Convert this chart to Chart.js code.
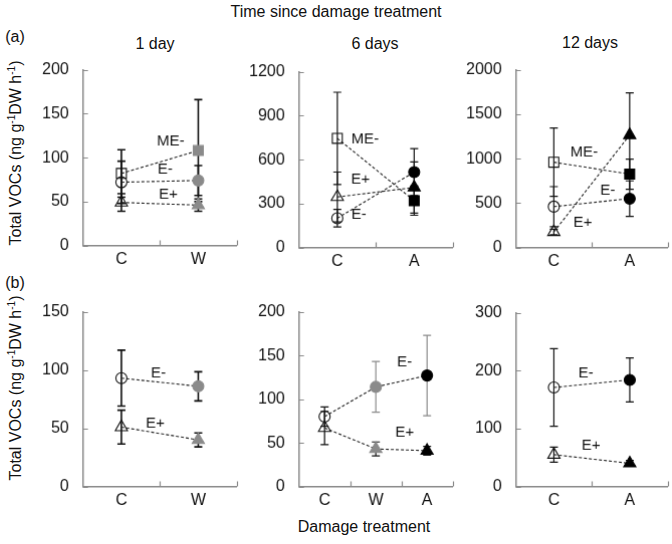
<!DOCTYPE html>
<html>
<head>
<meta charset="utf-8">
<script src="https://cdn.jsdelivr.net/npm/chart.js@4.4.0/dist/chart.umd.min.js"></script>
<style>
  body { margin: 0; background: #fff; width: 672px; height: 544px; position: relative; overflow: hidden;
         font-family: "Liberation Sans", Arial, sans-serif; color: #111; }
  canvas { position: absolute; }
  .t { position: absolute; font-size: 16px; white-space: nowrap; transform: translate(-50%, -50%); }
  .yt { position: absolute; font-size: 16px; white-space: nowrap; transform: translate(-50%, -50%) rotate(-90deg); }
  sup { font-size: 10px; vertical-align: 6px; line-height: 0; }
</style>
</head>
<body>
<div class="t" style="left:336px;top:12px">Time since damage treatment</div>
<div class="t" style="left:15px;top:37px">(a)</div>
<div class="t" style="left:15px;top:283px">(b)</div>
<div class="t" style="left:155px;top:44px">1 day</div>
<div class="t" style="left:375px;top:44px">6 days</div>
<div class="t" style="left:590px;top:43px">12 days</div>
<div class="t" style="left:364px;top:527px">Damage treatment</div>
<div class="yt" style="left:16px;top:153px">Total VOCs (ng g<sup>-1</sup>DW h<sup>-1</sup>)</div>
<div class="yt" style="left:16px;top:388px">Total VOCs (ng g<sup>-1</sup>DW h<sup>-1</sup>)</div>

<script>
// (a) total VOCs, rows = 1 day / 6 days / 12 days
const catsA1 = ["C", "W"];
const a1MEm = [82, 108], a1MEmErr = [27, 58];
const a1Em = [72, 74], a1EmErr = [24, 17];
const a1Ep = [49, 46], a1EpErr = [10, 7];

const catsA2 = ["C", "A"];
const a2MEm = [745, 320], a2MEmErr = [315, 100];
const a2Em = [200, 515], a2EmErr = [60, 160];
const a2Ep = [345, 410], a2EpErr = [170, 175];

const catsA3 = ["C", "A"];
const a3MEm = [960, 825], a3MEmErr = [385, 170];
const a3Em = [460, 550], a3EmErr = [225, 200];
const a3Ep = [175, 1265], a3EpErr = [30, 475];

// (b)
const catsB1 = ["C", "W"];
const b1Em = [93, 86], b1EmErr = [24, 12.5];
const b1Ep = [51, 40], b1EpErr = [14.5, 6];

const catsB2 = ["C", "W", "A"];
const b2Em = [80, 114, 127], b2EmErr = [11, 29, 46];
const b2Ep = [67, 43, 41], b2EpErr = [19, 8, 5];

const catsB3 = ["C", "A"];
const b3Em = [171, 184], b3EmErr = [67, 38];
const b3Ep = [55, 40], b3EpErr = [13, 5];

const FONT = "Liberation Sans, Arial, sans-serif";
const GRAY = "#8a8a8a";
const markFill = { C: "rgba(0,0,0,0)", W: GRAY, A: "#000" };
const markEdge = { C: "#111", W: GRAY, A: "#000" };

const styleOf = {
  "ME-": { pointStyle: "rect", radius: 7 },
  "E-": { pointStyle: "circle", radius: 5.5 },
  "E+": { pointStyle: "triangle", radius: 7 }
};

const panelPlugin = {
  id: "panelExtras",
  beforeDatasetsDraw(chart) {
    const ctx = chart.ctx, ys = chart.scales.y;
    const cfg = chart.options.plugins.panelExtras;
    ctx.save();
    chart.data.datasets.forEach((ds, i) => {
      const meta = chart.getDatasetMeta(i);
      ds.data.forEach((v, j) => {
        const e = ds.errs[j];
        const x = meta.data[j].x;
        const y1 = ys.getPixelForValue(v + e), y2 = ys.getPixelForValue(v - e);
        ctx.strokeStyle = (ds.grayErr && chart.data.labels[j] !== "C") ? GRAY : "#111";
        ctx.lineWidth = cfg.errWidth;
        ctx.beginPath();
        ctx.moveTo(x, y1); ctx.lineTo(x, y2);
        ctx.moveTo(x - 4, y1); ctx.lineTo(x + 4, y1);
        ctx.moveTo(x - 4, y2); ctx.lineTo(x + 4, y2);
        ctx.stroke();
      });
    });
    ctx.restore();
  },
  afterDraw(chart) {
    const ctx = chart.ctx, xs = chart.scales.x, ys = chart.scales.y, a = chart.chartArea;
    const cfg = chart.options.plugins.panelExtras;
    ctx.save();
    // inward tick marks
    ctx.strokeStyle = GRAY;
    ctx.lineWidth = 1.2;
    ctx.beginPath();
    ys.ticks.forEach(t => {
      const py = Math.round(ys.getPixelForValue(t.value)) + 0.5;
      ctx.moveTo(a.left, py); ctx.lineTo(a.left + 5, py);
    });
    for (let i = 0; i < chart.data.labels.length; i++) {
      const px = Math.round(xs.getPixelForValue(i + 0.5)) + 0.5;
      ctx.moveTo(px, a.bottom); ctx.lineTo(px, a.bottom - 5);
    }
    ctx.stroke();
    // series names
    ctx.fillStyle = "#111";
    ctx.font = "15px " + FONT;
    ctx.textAlign = "center";
    ctx.textBaseline = "middle";
    cfg.notes.forEach(n => {
      ctx.fillText(n.text, xs.getPixelForValue(n.x), ys.getPixelForValue(n.y));
    });
    ctx.restore();
  }
};

function series(label, cats, data, errs, grayErr) {
  const s = styleOf[label];
  return {
    label: label,
    data: data,
    errs: errs,
    grayErr: !!grayErr,
    pointStyle: s.pointStyle,
    pointRadius: s.radius,
    pointBackgroundColor: cats.map(c => markFill[c]),
    pointBorderColor: cats.map(c => markEdge[c]),
    pointBorderWidth: 1.1,
    borderColor: "#222",
    borderWidth: 1.1,
    borderDash: [3, 2],
    fill: false,
    tension: 0
  };
}

// area = wanted plot box on the page; canvas is resized/moved until the chart area sits there
function panel(area, cats, datasets, yMax, yStep, notes, extra) {
  const cv = document.createElement("canvas");
  let w = area.r - area.l + 70, h = area.b - area.t + 50;
  cv.width = w; cv.height = h;
  cv.style.width = w + "px"; cv.style.height = h + "px";
  document.body.appendChild(cv);
  const chart = new Chart(cv.getContext("2d"), {
    type: "line",
    data: { labels: cats, datasets: datasets },
    options: {
      responsive: false,
      maintainAspectRatio: false,
      animation: false,
      layout: { padding: { top: 12, right: 4, left: 0, bottom: 0 } },
      plugins: {
        legend: { display: false },
        tooltip: { enabled: false },
        panelExtras: Object.assign({ notes: notes, errWidth: 1.2 }, extra || {})
      },
      scales: {
        x: {
          offset: true,
          grid: { display: false, drawTicks: false, offset: true },
          border: { color: GRAY, width: 1.5 },
          ticks: { color: "#111", font: { size: 16, family: FONT }, padding: 4 }
        },
        y: {
          min: 0, max: yMax,
          grid: { display: false, drawTicks: false },
          border: { color: GRAY, width: 1.5 },
          ticks: { stepSize: yStep, color: "#111", font: { size: 16, family: FONT }, padding: 14,
                   callback: v => String(v) }
        }
      }
    },
    plugins: [panelPlugin]
  });
  const ca = chart.chartArea;
  w += (area.r - area.l) - (ca.right - ca.left);
  h += (area.b - area.t) - (ca.bottom - ca.top);
  chart.resize(w, h);
  const cb = chart.chartArea;
  cv.style.left = (area.l - cb.left) + "px";
  cv.style.top = (area.t - cb.top) + "px";
}

panel({ l: 83, r: 236, t: 70, b: 245 }, catsA1, [
  series("ME-", catsA1, a1MEm, a1MEmErr),
  series("E-", catsA1, a1Em, a1EmErr),
  series("E+", catsA1, a1Ep, a1EpErr)
], 200, 50, [
  { text: "ME-", x: 0.64, y: 118 },
  { text: "E-", x: 0.57, y: 86 },
  { text: "E+", x: 0.61, y: 58 }
], { errWidth: 1.6 });

panel({ l: 299, r: 452, t: 72, b: 247 }, catsA2, [
  series("ME-", catsA2, a2MEm, a2MEmErr),
  series("E-", catsA2, a2Em, a2EmErr),
  series("E+", catsA2, a2Ep, a2EpErr)
], 1200, 300, [
  { text: "ME-", x: 0.36, y: 741 },
  { text: "E+", x: 0.30, y: 466 },
  { text: "E-", x: 0.28, y: 226 }
]);

panel({ l: 516, r: 667, t: 70, b: 247 }, catsA3, [
  series("ME-", catsA3, a3MEm, a3MEmErr),
  series("E-", catsA3, a3Em, a3EmErr),
  series("E+", catsA3, a3Ep, a3EpErr)
], 2000, 500, [
  { text: "ME-", x: 0.40, y: 1073 },
  { text: "E-", x: 0.71, y: 644 },
  { text: "E+", x: 0.38, y: 282 }
]);

panel({ l: 83, r: 236, t: 312, b: 486 }, catsB1, [
  series("E-", catsB1, b1Em, b1EmErr),
  series("E+", catsB1, b1Ep, b1EpErr)
], 150, 50, [
  { text: "E-", x: 0.48, y: 97 },
  { text: "E+", x: 0.44, y: 54 }
], { errWidth: 1.6 });

panel({ l: 299, r: 452, t: 312, b: 486 }, catsB2, [
  series("E-", catsB2, b2Em, b2EmErr, true),
  series("E+", catsB2, b2Ep, b2EpErr)
], 200, 50, [
  { text: "E-", x: 1.56, y: 142.5 },
  { text: "E+", x: 1.56, y: 62 }
]);

panel({ l: 516, r: 667, t: 313, b: 486 }, catsB3, [
  series("E-", catsB3, b3Em, b3EmErr),
  series("E+", catsB3, b3Ep, b3EpErr)
], 300, 100, [
  { text: "E-", x: 0.42, y: 196 },
  { text: "E+", x: 0.49, y: 71 }
]);
</script>
</body>
</html>
